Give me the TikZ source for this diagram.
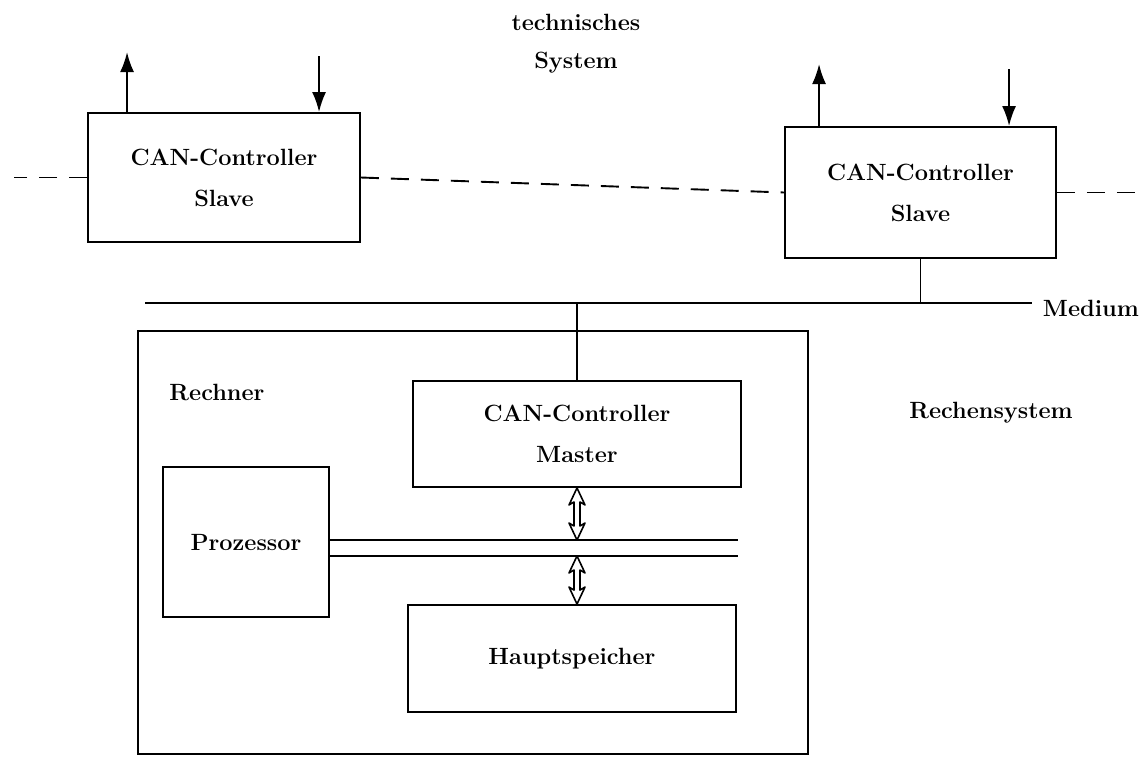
\documentclass[tikz,border=0pt]{standalone}
\usetikzlibrary{calc,arrows.meta}
% hollow double-headed arrow between two points on a vertical line (#1 above #2)
\newcommand\dblhollow[2]{%
  \draw[line width=1.6pt, line join=round]
    (#1) -- ($(#1)+(8,17)$) -- ($(#1)+(3,14)$) -- ($(#2)+(3,-14)$)
    -- ($(#2)+(8,-17)$) -- (#2) -- ($(#2)+(-8,-17)$) -- ($(#2)+(-3,-14)$)
    -- ($(#1)+(-3,14)$) -- ($(#1)+(-8,17)$) -- cycle;}
\begin{document}
\begin{tikzpicture}[x=1pt,y=-1pt,line width=1.9pt,
  lbl/.style={font=\fontsize{23.5}{41}\selectfont\bfseries,align=center,inner sep=0pt},
  box/.style={draw,rectangle,lbl},
  sig/.style={-{Latex[length=20pt,width=14pt]}},
  ext/.style={dashed,dash pattern=on 18pt off 12pt}]
\useasboundingbox (0,0) rectangle (1145,761);

% technical system side
\node[lbl,font=\fontsize{23.5}{38}\selectfont\bfseries] (ts) at (576,44) {technisches\\System};
\node[box,minimum width=272,minimum height=129] (s1) at (224,177.5) {CAN-Controller\\Slave};
\node[box,minimum width=271,minimum height=131] (s2) at (920.5,192.5) {CAN-Controller\\Slave};

% process signals of the slaves
\draw[sig] ($(s1.north west)+(40,0)$) -- ++(0,-60);
\draw[sig] ($(s1.north west)+(232,-56)$) -- ($(s1.north west)+(232,0)$);
\draw[sig] ($(s2.north west)+(35,0)$) -- ++(0,-62);
\draw[sig] ($(s2.north west)+(225,-57)$) -- ($(s2.north west)+(225,0)$);

% further slaves (not shown)
\draw[ext] (s1.west) -- ++(-73,0);
\draw[ext] (s1.east) -- (s2.west);
\draw[ext] (s2.east) -- ++(89,0);

% bus medium
\node[lbl,anchor=west] (med) at (1042,308) {Medium};
\coordinate (medL) at (145,303);
\coordinate (medR) at (1032,303);
\draw (medL) -- (medR);
\draw ($(s1.south)+(-6,0)$) -- ($(s1.south)+(-6,0)$ |- medL);
\draw (s2.south) -- (s2.south |- medL);

% computer
\node[draw,rectangle,minimum width=670,minimum height=423,inner sep=0pt] (rs) at (473,542.5) {};
\node[lbl] (rn) at (217,392) {Rechner};
\node[lbl] (rsl) at (991,413) {Rechensystem};
\node[box,minimum width=328,minimum height=106] (m) at (577,434) {CAN-Controller\\Master};
\node[box,minimum width=166,minimum height=150] (p) at (246,542) {Prozessor};
\node[box,minimum width=328,minimum height=107] (h) at (572,658.5) {Hauptspeicher};
\draw (m.north) -- (m.north |- medL);

% internal bus
\coordinate (busU) at ($(p.east)+(0,-2)$);
\coordinate (busL) at ($(p.east)+(0,14)$);
\draw (busU) -- ++(408,0);
\draw (busL) -- ++(408,0);
\dblhollow{m.south}{m.south |- busU}
\dblhollow{m.south |- busL}{m.south |- h.north}
\end{tikzpicture}
\end{document}
